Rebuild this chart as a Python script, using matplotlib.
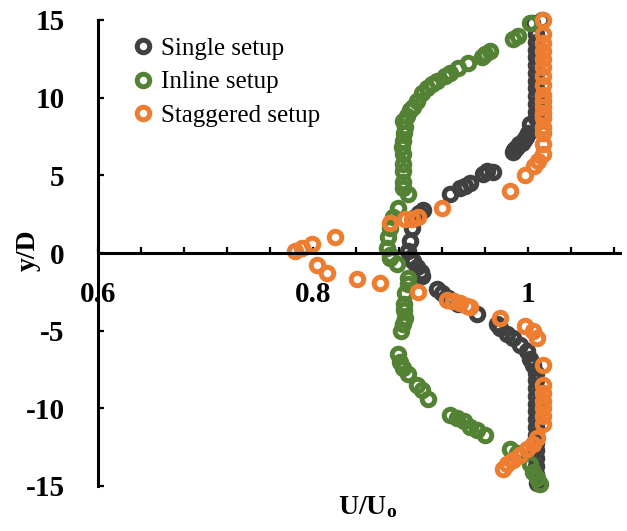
import matplotlib.pyplot as plt

plt.rcParams['font.family'] = 'Liberation Serif'
plt.rcParams['mathtext.fontset'] = 'custom'
plt.rcParams['mathtext.rm'] = 'Liberation Serif'
plt.rcParams['mathtext.bf'] = 'Liberation Serif:bold'

# velocity deficit profiles, U/U0 against y/D
single_u = [1.013, 1.004, 1.007, 1.007, 1.007, 1.007, 1.007, 1.007, 1.007, 1.007, 1.007,
            1.007, 1.007, 1.007, 1.002, 1.000, 0.998, 0.996, 0.994, 0.992, 0.990, 0.988,
            0.987, 0.986, 0.967, 0.962,
            0.958, 0.946, 0.941, 0.937, 0.927, 0.902, 0.899, 0.895, 0.892, 0.890, 0.888,
            0.890, 0.893, 0.897, 0.900, 0.901, 0.915, 0.920, 0.926, 0.930, 0.935, 0.953,
            0.971, 0.974, 0.980, 0.986, 0.993, 0.999, 1.002, 1.005, 1.007, 1.007, 1.007,
            1.007, 1.007, 1.007, 1.007, 1.007, 1.007, 1.007, 1.007, 1.007, 1.007, 1.007,
            1.008]
single_y = [15.0, 14.8, 14.1, 13.6, 13.1, 12.6, 12.1, 11.6, 11.1, 10.6, 10.1,
            9.6, 9.1, 8.7, 8.3, 7.7, 7.5, 7.3, 7.1, 7.0, 6.8, 6.7,
            6.6, 6.5, 5.2, 5.3,
            5.1, 4.5, 4.3, 4.2, 3.8, 2.8, 2.6, 2.3, 1.6, 0.8, 0.1,
            -0.3, -0.5, -0.9, -1.2, -1.5, -2.3, -2.6, -2.9, -3.1, -3.3, -3.9,
            -4.6, -4.8, -5.2, -5.5, -5.9, -6.3, -6.8, -7.2, -7.7, -8.2, -8.7,
            -9.2, -9.7, -10.2, -10.7, -11.2, -11.7, -12.2, -12.7, -13.2, -13.7, -14.2,
            -14.8]

inline_u = [1.002, 0.991, 0.986, 0.965, 0.960, 0.957, 0.944, 0.935, 0.927, 0.923, 0.915,
            0.911, 0.906, 0.901, 0.897, 0.893, 0.890, 0.887, 0.884, 0.886, 0.885, 0.884,
            0.883, 0.884, 0.884, 0.884, 0.884, 0.884, 0.888, 0.879, 0.874, 0.872, 0.870,
            0.869, 0.872, 0.872, 0.878, 0.888, 0.888, 0.886, 0.885, 0.885, 0.886, 0.884,
            0.882, 0.879, 0.881, 0.884, 0.888, 0.897, 0.901, 0.907, 0.927, 0.934, 0.940,
            0.946, 0.953, 0.960, 0.983, 0.990, 1.002, 1.005, 1.008, 1.011]
inline_y = [14.8, 14.0, 13.8, 13.0, 12.8, 12.6, 12.2, 11.9, 11.6, 11.4, 11.1,
            10.9, 10.6, 10.3, 9.8, 9.4, 9.2, 8.8, 8.5, 8.1, 7.7, 7.2,
            6.8, 6.4, 5.7, 5.3, 4.6, 4.2, 3.8, 2.9, 2.3, 1.6, 1.0,
            0.3, -0.1, -0.3, -0.7, -1.6, -2.0, -2.6, -3.3, -3.7, -4.2, -4.6,
            -5.0, -6.5, -7.0, -7.4, -7.8, -8.5, -8.8, -9.4, -10.4, -10.6, -10.8,
            -11.2, -11.4, -11.7, -12.6, -12.9, -13.6, -14.1, -14.5, -14.9]

staggered_u = [1.014, 1.014, 1.014, 1.014, 1.014, 1.014, 1.014, 1.014, 1.014, 1.014, 1.014,
               1.014, 1.014, 1.014, 1.014, 1.014, 1.014, 1.009, 1.006, 0.997, 0.983, 0.920,
               0.898, 0.892, 0.886, 0.872, 0.820, 0.799, 0.790, 0.783, 0.804, 0.813, 0.841,
               0.862, 0.898, 0.925, 0.930, 0.937, 0.943, 0.946, 0.974, 0.997, 1.005, 1.008,
               1.014, 1.014, 1.014, 1.014, 1.014, 1.014, 1.014, 1.008, 1.005, 0.999, 0.993,
               0.986, 0.980, 0.977]
staggered_y = [15.0, 14.1, 13.5, 13.0, 12.5, 12.0, 11.4, 10.8, 10.2, 9.8, 9.4,
               9.0, 8.7, 8.1, 7.7, 7.0, 6.4, 5.9, 5.6, 5.0, 4.0, 2.9,
               2.3, 2.2, 2.2, 1.9, 1.0, 0.6, 0.3, 0.1, -0.8, -1.3, -1.7,
               -1.9, -2.5, -3.0, -3.1, -3.2, -3.4, -3.5, -4.2, -4.7, -5.0, -5.5,
               -7.2, -8.5, -9.0, -9.5, -10.0, -10.5, -11.0, -11.9, -12.3, -12.6, -13.0,
               -13.3, -13.6, -13.9]

series_names = ['Single setup', 'Inline setup', 'Staggered setup']
series_colors = ['#404040', '#548235', '#ED7D31']

x_ticks = [0.6, 0.64, 0.68, 0.72, 0.76, 0.8, 0.84, 0.88, 0.92, 0.96, 1.0, 1.04, 1.08]
x_tick_labels = ['0.6', '', '', '', '', '0.8', '', '', '', '', '1', '', '']
y_ticks = [15, 10, 5, 0, -5, -10, -15]
y_tick_labels = ['15', '10', '5', '0', '-5', '-10', '-15']

fig = plt.figure(figsize=(6.27, 5.31), dpi=100)
ax = fig.add_axes([98 / 627, 1 - 486 / 531, (620 - 98) / 627, (486 - 20) / 531])

for u, y, name, color in zip([single_u, inline_u, staggered_u],
                             [single_y, inline_y, staggered_y],
                             series_names, series_colors):
    ax.plot(u, y, 'o', ls='none', ms=9, mew=3.6, mfc='none', mec=color,
            label=name, clip_on=False)

ax.set_xlim(0.6, 0.6 + 522 / 1075)
ax.set_ylim(-15, 15)

ax.spines['top'].set_visible(False)
ax.spines['right'].set_visible(False)
ax.spines['bottom'].set_position(('data', 0))
for side in ['left', 'bottom']:
    ax.spines[side].set_linewidth(2.2)

ax.set_xticks(x_ticks, x_tick_labels)
ax.set_yticks(y_ticks, y_tick_labels)
ax.tick_params(axis='x', direction='in', length=4.5, width=1.6, pad=20,
               labelsize=21)
ax.tick_params(axis='y', direction='in', length=4.5, width=1.6, pad=24,
               labelsize=21)
for lbl in ax.get_xticklabels() + ax.get_yticklabels():
    lbl.set_fontweight('bold')

fig.text(28 / 627, 1 - 250 / 531, 'y/D', rotation=90, ha='center', va='center',
         fontsize=20, fontweight='bold')
fig.text(368 / 627, 1 - 507 / 531, r'$\mathbf{U/U_o}$', ha='center', va='center',
         fontsize=20)

ax.legend(loc='upper left', bbox_to_anchor=(135 / 627, 1 - 37 / 531),
          bbox_transform=fig.transFigure, frameon=False, fontsize=18,
          handlelength=0.6, handletextpad=0.45, labelspacing=0.45,
          borderpad=0, borderaxespad=0)

fig.savefig('out.png', dpi=100)
